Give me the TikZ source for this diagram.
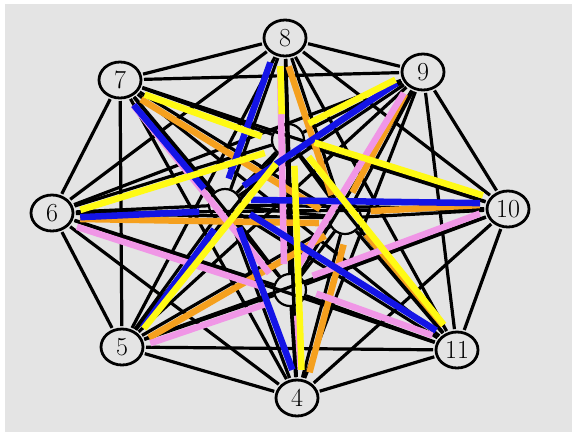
\documentclass[tikz,border=0pt]{standalone}
\usetikzlibrary{shapes.geometric,calc}
\definecolor{bg}{RGB}{228,228,228}
\definecolor{cblue}{RGB}{20,20,230}
\definecolor{cyel}{RGB}{255,250,20}
\definecolor{corg}{RGB}{245,160,30}
\definecolor{cpink}{RGB}{240,150,230}
\begin{document}
\begin{tikzpicture}[x=1pt,y=-1pt,
 outer/.style={ellipse,draw,line width=2.8pt,minimum width=42pt,minimum height=36pt,inner sep=0pt,font=\fontsize{26}{28}\selectfont,outer sep=3pt},
 innerv/.style={circle,draw,line width=2.2pt,minimum size=32pt,inner sep=0pt,outer sep=1pt},
 bl/.style={line width=3.2pt},
 col/.style={line width=6.5pt,shorten <=26pt,shorten >=28pt}]
\fill[white] (0,0) rectangle (572,432);
\fill[bg] (5,4) rectangle (572,432);
\useasboundingbox (0,0) rectangle (572,432);
% outer vertices
\node[outer] (o8) at (285,38) {8};
\node[outer] (o9) at (423,72) {9};
\node[outer] (o7) at (120,80) {7};
\node[outer] (o10) at (508,209) {10};
\node[outer] (o6) at (52,213) {6};
\node[outer] (o5) at (122,347) {5};
\node[outer] (o11) at (457,350) {11};
\node[outer] (o4) at (297,398) {4};
% inner vertices
\node[innerv] (iA) at (288,140) {};
\node[innerv] (iB) at (225,205) {};
\node[innerv] (iC) at (345,218) {};
\node[innerv] (iD) at (290,290) {};
% black edges: complete graph on the outer vertices
\foreach \i in {4,...,11}{
  \foreach \j in {4,...,11}{
    \ifnum\i<\j \draw[bl] (o\i) -- (o\j); \fi
  }
}
% black edges among inner vertices
\foreach \a/\b in {A/B,A/C,A/D,B/C,B/D,C/D}
  \draw[bl] (i\a) -- (i\b);
% black edges from inner to outer vertices
\foreach \a in {A,B,C,D}
  \foreach \j in {4,...,11} \draw[bl] (i\a) -- (o\j);
% coloured edges, drawn beside the black ones
\foreach \a/\c in {C/corg,D/cpink,B/cblue,A/cyel}
  \foreach \j in {4,...,11}
    \draw[col,\c] ($(i\a)!5.5pt!90:(o\j)$) -- ($(o\j)!5.5pt!-90:(i\a)$);
\end{tikzpicture}
\end{document}
